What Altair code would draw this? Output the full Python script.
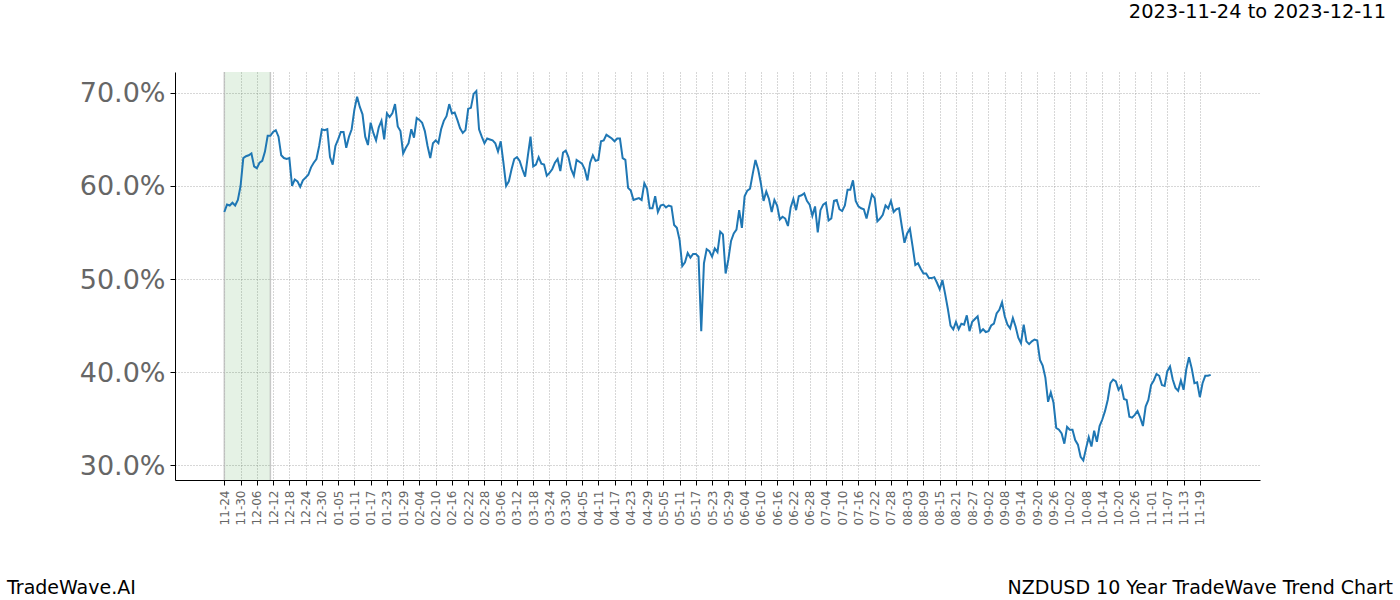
import altair as alt
import pandas as pd

# Seasonal x axis (month-day of a non-leap year), one value per calendar day
start_date = "2022-11-24"
pct_values = [
    57.2, 58.0, 57.9, 58.2, 57.9, 58.5, 60.0, 63.0, 63.2, 63.3,
    63.5, 62.1, 61.9, 62.5, 62.7, 63.7, 65.4, 65.4, 65.8, 66.0,
    65.3, 63.3, 63.0, 62.9, 63.0, 60.0, 60.7, 60.5, 59.9, 60.6,
    60.9, 61.2, 62.0, 62.5, 62.9, 64.3, 66.1, 66.0, 66.1, 63.1,
    62.3, 64.3, 65.0, 65.8, 65.8, 64.1, 65.3, 66.1, 68.2, 69.6,
    68.5, 67.7, 65.3, 64.4, 66.8, 65.7, 64.9, 66.3, 67.0, 65.0,
    67.8, 67.4, 67.8, 68.8, 66.4, 65.9, 63.5, 64.1, 64.6, 66.1,
    65.2, 67.3, 67.1, 66.8, 65.9, 64.3, 63.0, 64.6, 64.9, 64.6,
    66.1, 67.0, 67.5, 68.8, 67.8, 67.9, 67.1, 66.2, 65.7, 66.0,
    68.3, 68.4, 69.9, 70.2, 66.1, 65.3, 64.6, 65.1, 65.0, 64.9,
    64.6, 63.7, 64.8, 62.5, 60.0, 60.5, 61.8, 62.9, 63.1, 62.7,
    61.8, 61.0, 63.2, 65.3, 62.1, 62.3, 63.1, 62.4, 62.3, 61.1,
    61.4, 61.8, 62.5, 62.9, 61.6, 63.6, 63.8, 63.1, 61.8, 61.1,
    62.8, 62.6, 62.4, 61.8, 60.6, 62.5, 63.3, 62.7, 62.8, 64.8,
    64.9, 65.5, 65.3, 65.1, 64.8, 65.1, 65.1, 63.0, 62.8, 59.8,
    59.5, 58.5, 58.6, 58.7, 58.5, 60.3, 59.7, 57.6, 57.6, 58.9,
    57.2, 57.9, 58.0, 57.7, 57.9, 57.8, 55.8, 55.5, 54.2, 51.4,
    51.8, 52.8, 52.3, 52.7, 52.7, 52.4, 44.4, 51.7, 53.2, 53.0,
    52.4, 53.3, 52.9, 55.1, 54.8, 50.6, 52.1, 54.1, 54.9, 55.3,
    57.4, 55.5, 58.9, 59.5, 59.7, 61.3, 62.8, 61.8, 60.3, 58.4,
    59.4, 58.6, 57.2, 58.5, 57.9, 56.4, 56.7, 56.5, 55.7, 57.7,
    58.6, 57.4, 58.9, 59.0, 59.2, 58.4, 58.0, 56.8, 57.8, 55.0,
    57.4, 58.0, 58.2, 56.3, 56.5, 58.4, 58.5, 57.5, 57.3, 57.9,
    59.6, 59.6, 60.6, 58.4, 57.8, 57.6, 57.5, 56.5, 57.8, 59.1,
    58.7, 56.2, 56.5, 56.9, 57.9, 57.6, 58.4, 57.2, 57.5, 57.6,
    55.7, 53.9, 54.9, 55.4, 53.5, 51.5, 51.7, 51.1, 50.6, 50.6,
    50.1, 50.1, 50.2, 49.6, 48.9, 49.9, 48.4, 46.8, 45.0, 44.6,
    45.4, 44.6, 45.2, 45.1, 46.1, 44.4, 45.4, 45.7, 46.0, 44.3,
    44.6, 44.3, 44.4, 45.0, 45.2, 46.3, 46.7, 47.5, 46.0, 45.1,
    44.7, 45.8, 44.9, 43.7, 43.1, 45.1, 43.3, 43.0, 43.3, 43.5,
    43.4, 41.3, 40.7, 39.4, 36.8, 37.8, 36.7, 34.0, 33.8, 33.4,
    32.3, 34.1, 33.8, 33.8, 32.7, 32.2, 30.9, 30.5, 31.8, 33.0,
    32.0, 33.7, 32.5, 34.2, 34.9, 35.8, 37.0, 38.8, 39.2, 39.0,
    38.1, 38.5, 37.1, 37.0, 35.2, 35.1, 35.4, 35.8, 35.1, 34.2,
    36.3, 37.0, 38.6, 39.1, 39.8, 39.6, 38.6, 38.5, 40.1, 40.6,
    39.2, 38.3, 38.0, 39.1, 38.1, 40.3, 41.6, 40.4, 38.8, 38.9,
    37.3, 38.8, 39.6, 39.6, 39.7,
]

tick_dates = [
    "2022-11-24", "2022-11-30", "2022-12-06", "2022-12-12", "2022-12-18",
    "2022-12-24", "2022-12-30", "2023-01-05", "2023-01-11", "2023-01-17",
    "2023-01-23", "2023-01-29", "2023-02-04", "2023-02-10", "2023-02-16",
    "2023-02-22", "2023-02-28", "2023-03-06", "2023-03-12", "2023-03-18",
    "2023-03-24", "2023-03-30", "2023-04-05", "2023-04-11", "2023-04-17",
    "2023-04-23", "2023-04-29", "2023-05-05", "2023-05-11", "2023-05-17",
    "2023-05-23", "2023-05-29", "2023-06-04", "2023-06-10", "2023-06-16",
    "2023-06-22", "2023-06-28", "2023-07-04", "2023-07-10", "2023-07-16",
    "2023-07-22", "2023-07-28", "2023-08-03", "2023-08-09", "2023-08-15",
    "2023-08-21", "2023-08-27", "2023-09-02", "2023-09-08", "2023-09-14",
    "2023-09-20", "2023-09-26", "2023-10-02", "2023-10-08", "2023-10-14",
    "2023-10-20", "2023-10-26", "2023-11-01", "2023-11-07", "2023-11-13",
    "2023-11-19",
]
y_ticks = [30, 40, 50, 60, 70]

band_start = "2022-11-24"
band_end = "2022-12-11"
x_domain = ["2022-11-05T19:12:00", "2023-12-11T04:48:00"]
y_domain = [28.4, 72.25]

title_right = "2023-11-24 to 2023-12-11"
footer_left = "TradeWave.AI"
footer_right = "NZDUSD 10 Year TradeWave Trend Chart"


def ms(s):
    return int(pd.Timestamp(s, tz="UTC").value // 10**6)


dates = pd.date_range(start_date, periods=len(pct_values), freq="D")
df = pd.DataFrame({"date": [ms(d.strftime("%Y-%m-%d")) for d in dates], "pct": pct_values})

W, H = 1085, 408
LEFT, TOP = 175, 72

x_scale = alt.Scale(type="utc", domain=[ms(x_domain[0]), ms(x_domain[1])])
y_scale = alt.Scale(domain=y_domain, nice=False, zero=False)

x_axis = alt.Axis(
    values=[ms(t) for t in tick_dates],
    format="%m-%d",
    labelAngle=-90,
    labelFont="DejaVu Sans",
    labelFontSize=12,
    labelColor="#666666",
    labelPadding=5,
    tickSize=5,
    tickColor="#000000",
    domainColor="#000000",
    domainWidth=1,
    grid=True,
    gridColor="#999999",
    gridDash=[1, 2],
    gridWidth=0.8,
    title=None,
    labelOverlap=False,
    labelFlush=False,
)
y_axis = alt.Axis(
    values=y_ticks,
    labelExpr="format(datum.value, '.1f') + '%'",
    labelFont="DejaVu Sans",
    labelFontSize=27,
    labelColor="#666666",
    labelPadding=5,
    labelOffset=1,
    tickSize=5,
    tickColor="#000000",
    domainColor="#000000",
    domainWidth=1,
    grid=True,
    gridColor="#999999",
    gridDash=[1, 2],
    gridWidth=0.8,
    title=None,
)

band_df = pd.DataFrame({"start": [ms(band_start)], "end": [ms(band_end)]})

band = alt.Chart(band_df).mark_rect(color="green", opacity=0.1).encode(
    x=alt.X("start:T", scale=x_scale, axis=x_axis),
    x2="end:T",
    y=alt.value(0),
    y2=alt.value(H),
)
band_edges = alt.Chart(
    pd.DataFrame({"edge": [ms(band_start), ms(band_end)]})
).mark_rule(color="#bbbbbb", strokeWidth=1.5, opacity=0.8).encode(
    x=alt.X("edge:T", scale=x_scale, axis=x_axis),
    y=alt.value(0),
    y2=alt.value(H),
)

line = alt.Chart(df).mark_line(color="#1f77b4", strokeWidth=2, clip=True).encode(
    x=alt.X("date:T", scale=x_scale, axis=x_axis),
    y=alt.Y("pct:Q", scale=y_scale, axis=y_axis),
)

t_top = alt.Chart(pd.DataFrame({"t": [title_right]})).mark_text(
    align="right", baseline="middle", font="DejaVu Sans", fontSize=19.4, color="#000000"
).encode(x=alt.value(1386 - LEFT), y=alt.value(12 - TOP), text="t:N")
t_left = alt.Chart(pd.DataFrame({"t": [footer_left]})).mark_text(
    align="left", baseline="middle", font="DejaVu Sans", fontSize=19, color="#000000"
).encode(x=alt.value(7 - LEFT), y=alt.value(588 - TOP), text="t:N")
t_right = alt.Chart(pd.DataFrame({"t": [footer_right]})).mark_text(
    align="right", baseline="middle", font="DejaVu Sans", fontSize=19, color="#000000"
).encode(x=alt.value(1393 - LEFT), y=alt.value(588 - TOP), text="t:N")

chart = alt.layer(band, band_edges, line, t_top, t_left, t_right).properties(
    width=W,
    height=H,
    autosize=alt.AutoSizeParams(type="none"),
    padding={"left": LEFT, "top": TOP, "right": 1400 - LEFT - W, "bottom": 600 - TOP - H},
    background="white",
).configure_view(stroke=None)

chart.save("out.html", embed_options={"renderer": "svg", "actions": False})
